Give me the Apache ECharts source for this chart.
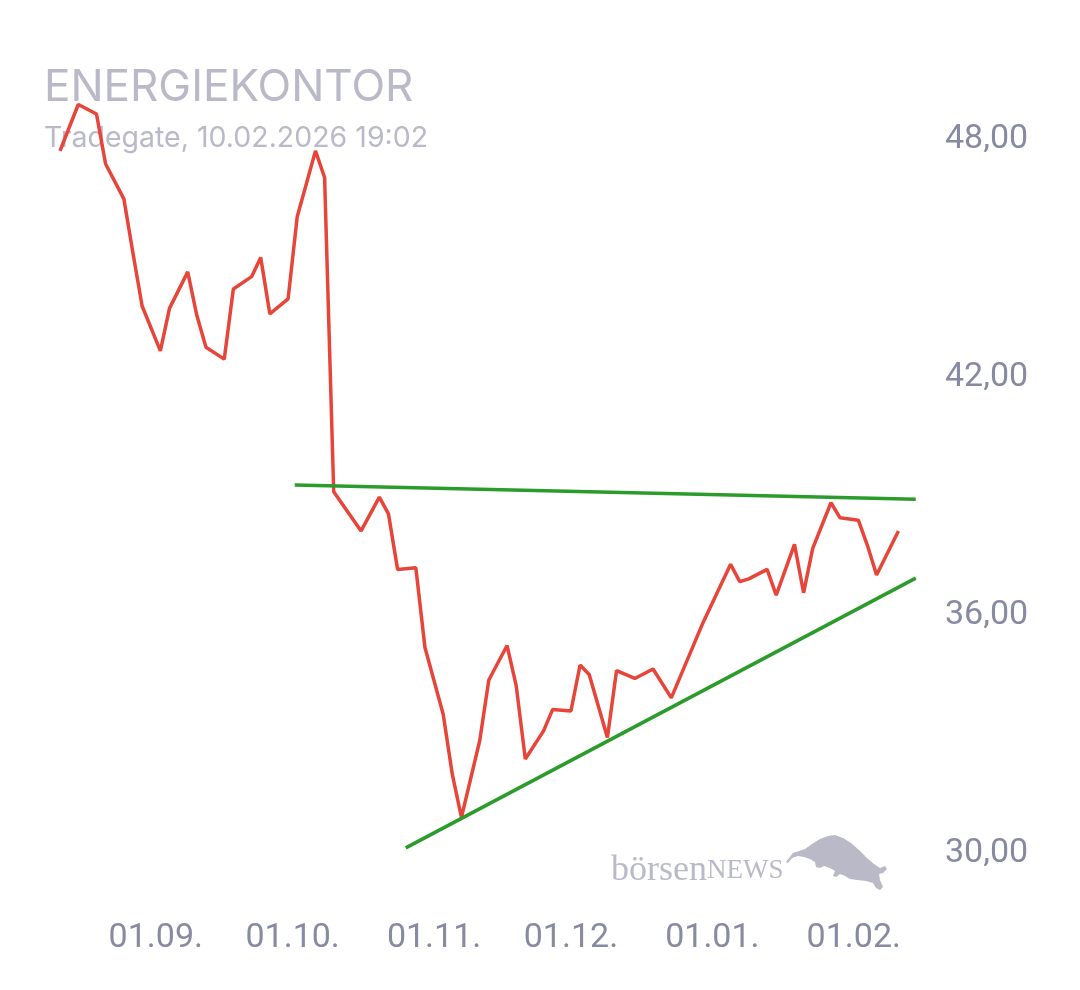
<!DOCTYPE html>
<html>
<head>
<meta charset="utf-8">
<script src="https://cdn.jsdelivr.net/npm/echarts@6/dist/echarts.min.js"></script>
<style>
html,body{margin:0;padding:0;background:#fff;}
#chart{width:1080px;height:990px;}
</style>
</head>
<body>
<div id="chart"></div>
<script>
// ---- data ----
const titleText = 'ENERGIEKONTOR';
const subtitleText = 'Tradegate, 10.02.2026 19:02';

const dates = [
  '2025-08-11','2025-08-15','2025-08-19','2025-08-21','2025-08-25','2025-08-27','2025-08-29',
  '2025-09-02','2025-09-04','2025-09-08','2025-09-10','2025-09-12','2025-09-16','2025-09-18',
  '2025-09-22','2025-09-24','2025-09-26','2025-09-30','2025-10-02','2025-10-06','2025-10-08',
  '2025-10-10','2025-10-16','2025-10-20','2025-10-22','2025-10-24','2025-10-28','2025-10-30',
  '2025-11-03','2025-11-05','2025-11-07','2025-11-11','2025-11-13','2025-11-17','2025-11-19',
  '2025-11-21','2025-11-25','2025-11-27','2025-12-01','2025-12-03','2025-12-05','2025-12-09',
  '2025-12-11','2025-12-15','2025-12-19','2025-12-23','2025-12-30','2026-01-05','2026-01-07',
  '2026-01-09','2026-01-13','2026-01-15','2026-01-19','2026-01-21','2026-01-23','2026-01-27',
  '2026-01-29','2026-02-02','2026-02-04','2026-02-06','2026-02-10 19:02'
];
const prices = [
  47.70,48.87,48.63,47.37,46.49,45.12,43.79,
  42.66,43.73,44.65,43.55,42.75,42.45,44.22,
  44.53,45.01,43.59,43.97,46.04,47.70,47.03,
  39.11,38.12,38.97,38.55,37.15,37.19,35.18,
  33.50,31.98,30.90,32.83,34.36,35.23,34.22,
  32.37,33.08,33.62,33.58,34.74,34.50,32.91,
  34.60,34.40,34.64,33.91,35.82,37.28,36.84,
  36.91,37.15,36.50,37.78,36.56,37.68,38.83,
  38.45,38.39,37.75,37.01,38.12
];
const resistanceDates = ['2025-10-01 11:00','2026-02-14 14:00'];
const resistanceValues = [39.28, 38.92];
const supportDates = ['2025-10-25 19:00','2026-02-14 14:00'];
const supportValues = [30.13, 36.93];

const xTickDates = ['2025-09-01','2025-10-01','2025-11-01','2025-12-01','2026-01-01','2026-02-01'];
const yTickValues = [30, 36, 42, 48];
const xRange = ['2025-08-11', '2026-02-14 15:22'];
const yRange = [30, 50];

// ---- helpers ----
const P = s => {
  const m = s.match(/(\d+)-(\d+)-(\d+)(?:\s+(\d+):(\d+))?/);
  return new Date(+m[1], +m[2] - 1, +m[3], m[4] ? +m[4] : 0, m[5] ? +m[5] : 0).getTime();
};
const pair = (ds, vs) => ds.map((d, i) => [P(d), vs[i]]);
const pad = n => (n < 10 ? '0' : '') + n;

const chart = echarts.init(document.getElementById('chart'), null, {renderer: 'canvas'});

const labelColor = '#878aa1';
const lightColor = '#b9b9c8';

const option = {
  backgroundColor: '#ffffff',
  animation: false,
  grid: {left: 60, right: 164, top: 59.67, bottom: 137, outerBoundsMode: 'none'},
  xAxis: {
    type: 'value',
    min: P(xRange[0]),
    max: P(xRange[1]),
    axisLine: {show: false},
    axisTick: {show: false},
    splitLine: {show: false},
    axisLabel: {
      customValues: xTickDates.map(P),
      formatter: v => { const d = new Date(v); return pad(d.getDate()) + '.' + pad(d.getMonth() + 1) + '.'; },
      color: labelColor,
      fontFamily: 'Roboto',
      fontSize: 34,
      margin: 68,
      hideOverlap: false
    }
  },
  yAxis: {
    type: 'value',
    position: 'right',
    min: yRange[0],
    max: yRange[1],
    axisLine: {show: false},
    axisTick: {show: false},
    splitLine: {show: false},
    axisLabel: {
      customValues: yTickValues,
      formatter: v => v.toFixed(2).replace('.', ','),
      color: labelColor,
      fontFamily: 'Roboto',
      fontSize: 34,
      margin: 29,
      padding: [4, 0, 0, 0]
    }
  },
  graphic: [
    {type: 'text', left: 44, top: 66, z: 0, style: {text: titleText, font: '44px Inter', fill: lightColor}},
    {type: 'text', left: 44, top: 124, z: 0, style: {text: subtitleText, font: '28.5px Inter', fill: lightColor}},
    {type: 'text', left: 611, top: 853, z: 0, style: {
      text: '{a|börsen}{b|NEWS}',
      fill: lightColor,
      rich: {
        a: {fontFamily: 'Liberation Serif', fontSize: 36, fill: lightColor},
        b: {fontFamily: 'Liberation Serif', fontSize: 27, fill: lightColor}
      }
    }},
    {type: 'polygon', z: 0, shape: {points: [
      [786,862],[789,858],[793,853],[799,851],[805,849],[812,844],[820,839],[828,836],[835,835],
      [843,838],[851,843],[859,850],[867,858],[874,864],[880,868],[885,866],[887,869],[883,873],
      [879,874],[880,880],[883,887],[880,890],[876,888],[873,883],[866,881],[857,880],[850,879],
      [845,876],[840,874],[836,877],[833,876],[835,871],[830,868],[824,866],[820,868],[816,867],
      [815,862],[810,859],[804,857],[798,856],[792,858],[788,863]
    ]}, style: {fill: lightColor}}
  ],
  series: [
    {
      type: 'line', name: 'Kurs', data: pair(dates, prices),
      showSymbol: false, symbol: 'none', z: 3,
      lineStyle: {color: '#e8453a', width: 3.5},
      itemStyle: {color: '#e8453a'}
    },
    {
      type: 'line', name: 'Widerstand', data: pair(resistanceDates, resistanceValues),
      showSymbol: false, symbol: 'none', z: 4,
      lineStyle: {color: '#2b9b2b', width: 3.5}
    },
    {
      type: 'line', name: 'Unterstützung', data: pair(supportDates, supportValues),
      showSymbol: false, symbol: 'none', z: 4,
      lineStyle: {color: '#2b9b2b', width: 3.5}
    }
  ]
};
chart.setOption(option);
</script>
</body>
</html>
